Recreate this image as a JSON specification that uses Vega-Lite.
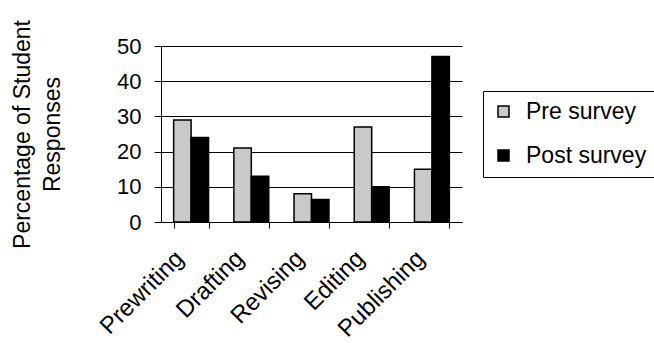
{
  "$schema": "https://vega.github.io/schema/vega-lite/v6.json",
  "autosize": {"type": "none"},
  "padding": {"left": 161, "top": 46, "right": 192, "bottom": 121},
  "width": 301,
  "height": 176,
  "background": "white",
  "config": {
    "view": {"stroke": null},
    "font": "Liberation Sans",
    "axis": {
      "labelFont": "Liberation Sans",
      "titleFont": "Liberation Sans",
      "labelColor": "black",
      "titleColor": "black",
      "domainColor": "black",
      "tickColor": "black",
      "gridColor": "black",
      "gridOpacity": 1,
      "domainWidth": 1,
      "tickWidth": 1
    }
  },
  "data": {
    "values": [
      {"stage": "Prewriting", "survey": "Pre survey", "percent": 29},
      {"stage": "Prewriting", "survey": "Post survey", "percent": 24},
      {"stage": "Drafting", "survey": "Pre survey", "percent": 21},
      {"stage": "Drafting", "survey": "Post survey", "percent": 13},
      {"stage": "Revising", "survey": "Pre survey", "percent": 8},
      {"stage": "Revising", "survey": "Post survey", "percent": 6.4},
      {"stage": "Editing", "survey": "Pre survey", "percent": 27},
      {"stage": "Editing", "survey": "Post survey", "percent": 10},
      {"stage": "Publishing", "survey": "Pre survey", "percent": 15},
      {"stage": "Publishing", "survey": "Post survey", "percent": 47}
    ]
  },
  "mark": {"type": "bar", "stroke": "black", "strokeWidth": 1.5},
  "encoding": {
    "x": {
      "field": "stage",
      "type": "nominal",
      "sort": ["Prewriting", "Drafting", "Revising", "Editing", "Publishing"],
      "scale": {"paddingInner": 0.42, "paddingOuter": 0.21},
      "axis": {
        "title": null,
        "labelAngle": -45,
        "labelFontSize": 24,
        "labelPadding": 18,
        "labelOffset": -20,
        "labelBound": false,
        "tickBand": "extent",
        "tickSize": 6,
        "grid": false
      }
    },
    "xOffset": {
      "field": "survey",
      "type": "nominal",
      "sort": ["Pre survey", "Post survey"],
      "scale": {"paddingInner": 0, "paddingOuter": 0}
    },
    "y": {
      "field": "percent",
      "type": "quantitative",
      "scale": {"domain": [0, 50], "nice": false},
      "axis": {
        "values": [0, 10, 20, 30, 40, 50],
        "title": ["Percentage of Student", "Responses"],
        "titleFontSize": 23,
        "titleFontWeight": "normal",
        "titleLineHeight": 30,
        "titlePadding": 52,
        "labelFontSize": 22,
        "labelPadding": 13,
        "tickSize": 7,
        "grid": true
      }
    },
    "color": {
      "field": "survey",
      "type": "nominal",
      "sort": ["Pre survey", "Post survey"],
      "scale": {"domain": ["Pre survey", "Post survey"], "range": ["#c9c9c9", "#000000"]},
      "legend": {
        "title": null,
        "orient": "none",
        "legendX": 322,
        "legendY": 45,
        "strokeColor": "black",
        "fillColor": "white",
        "padding": 9,
        "symbolType": "square",
        "symbolSize": 121,
        "symbolStrokeColor": "black",
        "symbolStrokeWidth": 1.5,
        "symbolOpacity": 1,
        "labelFontSize": 23,
        "labelColor": "black",
        "labelFont": "Liberation Sans",
        "labelOffset": 11,
        "labelLimit": 300,
        "rowPadding": 20
      }
    }
  }
}
